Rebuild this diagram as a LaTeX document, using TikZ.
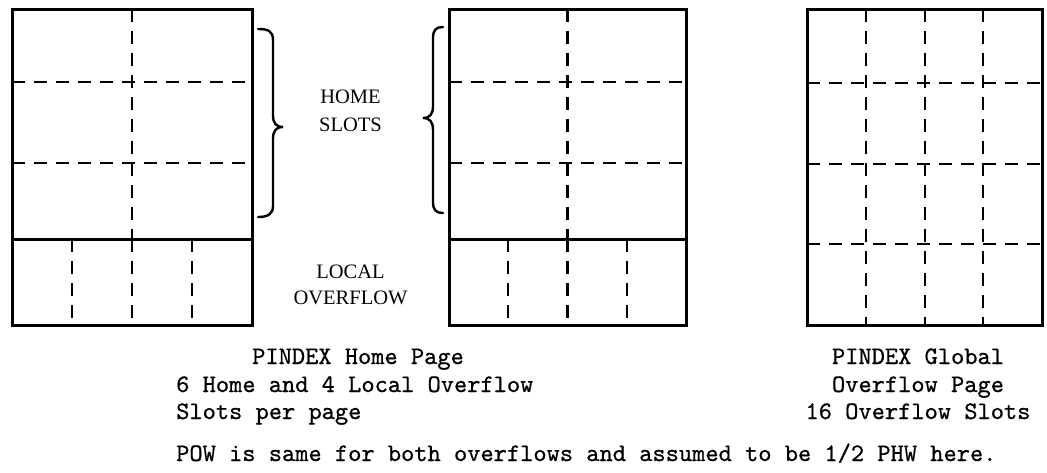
\documentclass[tikz,border=0pt]{standalone}
\usepackage{fontspec}
\setmainfont{Liberation Serif}
\newfontfamily\twfont{lmmono10-regular.otf}[FakeBold=0.7]
\begin{document}
\begin{tikzpicture}[x=1pt,y=-1pt,
  outline/.style={line width=3pt, line join=miter, line cap=rect},
  gridline/.style={line width=2.5pt, dash pattern=on 13pt off 9pt},
  bracestyle/.style={line width=2.4pt, line cap=round},
  lbl/.style={font=\fontsize{20.5}{27}\selectfont, inner sep=0pt},
  mono/.style={font=\twfont\fontsize{25.2}{27.5}\selectfont, inner sep=0pt, anchor=base west}
]
\useasboundingbox (0,0) rectangle (1047,472);

% ---- left home page ----
\draw[outline] (12,9) rectangle (252,325);
\draw[outline] (12,239) -- (252,239);
\draw[gridline] (12,82) -- (252,82);
\draw[gridline] (12,163) -- (252,163);
\draw[gridline] (132,9) -- (132,239);
\draw[gridline] (72,239) -- (72,325);
\draw[gridline] (132,239) -- (132,325);
\draw[gridline] (192,239) -- (192,325);

% ---- middle home page ----
\draw[outline] (449,9) rectangle (686,325);
\draw[outline] (449,239) -- (686,239);
\draw[gridline] (449,82) -- (686,82);
\draw[gridline] (449,163) -- (686,163);
\draw[gridline] (567.5,9) -- (567.5,239);
\draw[gridline] (508,239) -- (508,325);
\draw[gridline] (567.5,239) -- (567.5,325);
\draw[gridline] (627,239) -- (627,325);

% ---- right global overflow page ----
\draw[outline] (807,9) rectangle (1042,325);
\draw[gridline] (807,83) -- (1042,83);
\draw[gridline] (807,164) -- (1042,164);
\draw[gridline] (807,244) -- (1042,244);
\draw[gridline] (866,9) -- (866,325);
\draw[gridline] (925,9) -- (925,325);
\draw[gridline] (983,9) -- (983,325);

% ---- braces ----
\draw[bracestyle] (258,29) .. controls (268,29) and (273,31) .. (273,40) -- (273,115)
  .. controls (273,123) and (276,127) .. (283,127)
  .. controls (276,127) and (273,131) .. (273,139) -- (273,206)
  .. controls (273,214) and (268,217) .. (258,217);
\draw[bracestyle] (443,27) .. controls (436,27) and (433,30) .. (433,38) -- (433,106)
  .. controls (433,114) and (430,118) .. (423,118)
  .. controls (430,118) and (433,122) .. (433,130) -- (433,202)
  .. controls (433,210) and (436,213) .. (443,213);

% ---- labels ----
\node[lbl] (home) at (350.5,97) {HOME};
\node[lbl] (slots) at (350.5,125) {SLOTS};
\node[lbl] (local) at (350.5,272) {LOCAL};
\node[lbl] (ovf) at (350.5,298) {OVERFLOW};

\node[mono] (t1) at (252,364) {PINDEX Home Page};
\node[mono] (t2) at (176,392) {6 Home and 4 Local Overflow};
\node[mono] (t3) at (176,419) {Slots per page};
\node[mono] (t4) at (176,461) {POW is same for both overflows and assumed to be 1/2 PHW here.};

\node[mono, anchor=base] (r1) at (918,364) {PINDEX Global};
\node[mono, anchor=base] (r2) at (918,392) {Overflow Page};
\node[mono, anchor=base] (r3) at (918,419) {16 Overflow Slots};
\end{tikzpicture}
\end{document}
